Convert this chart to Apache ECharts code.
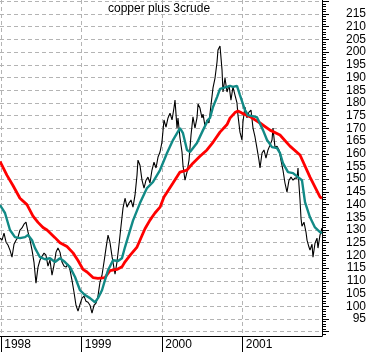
<!DOCTYPE html>
<html>
<head>
<meta charset="utf-8">
<script src="https://cdn.jsdelivr.net/npm/echarts@6/dist/echarts.min.js"></script>
<style>
html, body { margin: 0; padding: 0; background: #fff; }
#chart { width: 371px; height: 352px; }
</style>
</head>
<body>
<div id="chart"></div>
<script>
// 年份刻度
var yearTicks = [1998, 1999, 2000, 2001];
// 右轴刻度和标签
var majorTicks = [90, 95, 100, 105, 110, 115, 120, 125, 130, 135, 140, 145, 150, 155, 160, 165, 170, 175, 180, 185, 190, 195, 200, 205, 210, 215, 220];
var tickLabels = [95, 100, 105, 110, 115, 120, 125, 130, 135, 140, 145, 150, 155, 160, 165, 170, 175, 180, 185, 190, 195, 200, 205, 210, 215];
var minorTicks = [];
for (var m = 89; m <= 220; m++) { if (m % 5 != 0) minorTicks.push(m); }

// copper plus 3crude 价格
var price = [
[1997.985,126.8],[1998.010,126.0],[1998.035,128.8],[1998.060,125.2],[1998.084,124.1],[1998.109,122.1],[1998.134,119.3],[1998.159,124.4],
[1998.184,126.0],[1998.209,127.2],[1998.233,130.0],[1998.258,130.8],[1998.283,132.3],[1998.308,133.1],[1998.333,129.2],[1998.358,126.0],
[1998.383,122.1],[1998.407,117.4],[1998.432,109.1],[1998.457,115.4],[1998.482,118.2],[1998.507,119.7],[1998.532,120.9],[1998.556,120.1],
[1998.581,115.8],[1998.606,118.2],[1998.631,112.2],[1998.656,116.2],[1998.681,121.3],[1998.705,122.9],[1998.730,121.3],[1998.755,117.4],
[1998.780,115.8],[1998.805,115.4],[1998.830,116.6],[1998.855,114.2],[1998.879,110.3],[1998.904,105.6],[1998.929,100.4],[1998.954,98.1],
[1998.979,100.8],[1999.004,103.2],[1999.029,104.0],[1999.053,102.0],[1999.078,101.6],[1999.103,100.4],[1999.128,97.3],[1999.153,100.4],
[1999.178,101.2],[1999.202,104.0],[1999.227,109.5],[1999.252,112.2],[1999.277,117.4],[1999.302,122.9],[1999.327,128.0],[1999.351,125.2],
[1999.376,119.7],[1999.401,115.0],[1999.414,112.6],[1999.438,117.4],[1999.463,124.1],[1999.488,131.5],[1999.513,138.6],[1999.538,142.5],
[1999.563,139.0],[1999.587,140.6],[1999.612,141.8],[1999.637,139.0],[1999.662,143.7],[1999.687,151.6],[1999.699,157.5],[1999.724,155.5],
[1999.749,149.6],[1999.774,146.5],[1999.799,149.6],[1999.823,150.8],[1999.848,148.5],[1999.873,153.6],[1999.898,156.7],[1999.923,154.4],
[1999.948,158.7],[1999.973,160.7],[1999.997,164.6],[2000.022,173.3],[2000.047,170.5],[2000.072,174.1],[2000.097,176.0],[2000.122,173.3],
[2000.146,178.0],[2000.159,181.1],[2000.184,170.1],[2000.196,174.1],[2000.221,166.2],[2000.246,160.7],[2000.258,155.5],[2000.283,149.6],
[2000.308,152.8],[2000.333,157.5],[2000.358,167.4],[2000.382,174.5],[2000.407,170.1],[2000.432,174.1],[2000.445,179.6],[2000.469,178.0],
[2000.494,174.1],[2000.507,175.6],[2000.532,170.9],[2000.556,173.3],[2000.581,172.1],[2000.606,179.2],[2000.631,185.9],[2000.656,189.8],
[2000.681,196.1],[2000.693,200.8],[2000.718,202.4],[2000.743,193.0],[2000.755,184.3],[2000.780,189.8],[2000.805,184.3],[2000.830,187.0],
[2000.854,181.1],[2000.879,186.3],[2000.904,183.1],[2000.929,180.0],[2000.941,175.2],[2000.966,168.5],[2000.991,165.4],[2001.003,172.5],
[2001.028,178.4],[2001.053,174.1],[2001.078,176.4],[2001.103,177.2],[2001.128,170.1],[2001.153,166.6],[2001.177,162.2],[2001.202,157.5],
[2001.215,154.4],[2001.240,160.3],[2001.264,161.5],[2001.289,158.3],[2001.314,161.5],[2001.339,163.4],[2001.364,165.4],[2001.376,170.1],
[2001.401,162.6],[2001.426,163.0],[2001.451,161.5],[2001.475,157.5],[2001.500,153.6],[2001.525,148.5],[2001.550,144.9],[2001.575,149.6],
[2001.600,150.8],[2001.625,149.6],[2001.649,150.4],[2001.674,150.4],[2001.687,154.4],[2001.699,147.7],[2001.712,141.8],[2001.724,134.7],
[2001.736,131.5],[2001.761,133.1],[2001.786,129.2],[2001.799,126.0],[2001.823,123.3],[2001.836,122.1],[2001.861,124.4],[2001.873,119.3],
[2001.898,124.8],[2001.923,126.8],[2001.935,122.9],[2001.960,128.0],[2001.985,130.8]
];

// 短期均线（绿色）
var maShort = [
[1997.985,139.8],[1998.047,136.7],[1998.109,130.0],[1998.171,127.2],[1998.233,126.8],[1998.296,127.2],[1998.333,128.0],[1998.383,126.0],
[1998.420,122.9],[1998.482,119.3],[1998.544,118.5],[1998.606,118.9],[1998.668,117.4],[1998.730,118.9],[1998.792,117.4],[1998.855,115.4],
[1998.917,111.5],[1998.979,106.3],[1999.041,104.4],[1999.103,103.2],[1999.165,101.6],[1999.202,103.2],[1999.252,106.3],[1999.289,110.3],
[1999.327,114.2],[1999.389,118.1],[1999.451,117.8],[1999.500,118.9],[1999.538,123.3],[1999.575,127.2],[1999.637,133.7],[1999.724,140.6],
[1999.811,146.5],[1999.886,148.9],[1999.973,153.6],[2000.060,160.3],[2000.134,165.4],[2000.221,170.1],[2000.258,168.1],[2000.308,161.5],
[2000.345,160.7],[2000.432,164.2],[2000.507,169.3],[2000.569,173.3],[2000.594,174.1],[2000.631,178.4],[2000.681,182.3],[2000.718,185.5],
[2000.805,186.3],[2000.842,186.7],[2000.879,186.3],[2000.929,186.7],[2000.966,183.1],[2001.028,177.2],[2001.066,175.2],[2001.090,175.2],
[2001.177,174.4],[2001.252,169.3],[2001.302,165.4],[2001.364,162.6],[2001.426,162.2],[2001.463,160.3],[2001.500,156.3],[2001.563,152.8],
[2001.625,152.4],[2001.687,150.8],[2001.736,149.6],[2001.774,141.0],[2001.836,135.0],[2001.898,131.0],[2001.960,129.2],[2001.985,128.8]
];

// 长期均线（红色）
var maLong = [
[1997.985,157.0],[1998.072,151.5],[1998.146,147.5],[1998.233,142.5],[1998.320,140.0],[1998.395,135.5],[1998.457,133.0],[1998.519,131.0],
[1998.569,130.0],[1998.668,127.0],[1998.730,125.0],[1998.817,123.5],[1998.892,121.0],[1998.954,118.0],[1999.016,114.5],[1999.066,113.5],
[1999.140,111.3],[1999.202,111.0],[1999.289,111.3],[1999.351,114.0],[1999.438,114.5],[1999.500,115.5],[1999.538,117.5],[1999.600,120.0],
[1999.687,123.3],[1999.786,130.5],[1999.848,133.9],[1999.910,136.7],[1999.973,139.0],[2000.022,143.0],[2000.134,148.5],[2000.221,152.8],
[2000.308,153.6],[2000.382,156.3],[2000.469,159.0],[2000.556,161.5],[2000.631,164.5],[2000.718,168.5],[2000.805,171.5],[2000.842,174.0],
[2000.904,176.2],[2000.941,176.8],[2000.991,176.0],[2001.090,174.6],[2001.215,172.1],[2001.339,169.3],[2001.463,167.4],[2001.587,163.0],
[2001.712,159.5],[2001.836,150.8],[2001.960,143.0],[2001.985,142.5]
];
</script>
<script>
var myChart = echarts.init(document.getElementById('chart'));
var gridLine = { show: true, lineStyle: { color: '#b4b4b4', type: [4, 3], width: 1 } };
var font = 'Liberation Sans, Arial, sans-serif';

var option = {
    animation: false,
    backgroundColor: '#fff',
    title: {
        text: 'copper plus 3crude',
        left: 108,
        top: 3,
        padding: 0,
        textStyle: { fontSize: 12, fontWeight: 'normal', color: '#000', fontFamily: font }
    },
    grid: { left: 0, right: 49, top: 0, bottom: 16 },
    xAxis: {
        type: 'value',
        min: 1997.985,
        max: 2001.985,
        axisLine: { show: true, lineStyle: { color: '#000', width: 1 } },
        axisTick: { show: true, length: 16, customValues: yearTicks, lineStyle: { color: '#000' } },
        axisLabel: {
            customValues: yearTicks,
            align: 'left',
            verticalAlign: 'top',
            margin: 3,
            padding: [0, 0, 0, 3],
            color: '#000',
            fontSize: 12,
            fontFamily: font,
            formatter: function (v) { return String(Math.round(v)); }
        },
        splitLine: gridLine
    },
    yAxis: [{
        type: 'value',
        position: 'right',
        min: 88.3,
        max: 220.5,
        axisLine: { show: true, lineStyle: { color: '#000', width: 1 } },
        axisTick: { show: true, length: 7, customValues: majorTicks, lineStyle: { color: '#000' } },
        axisLabel: {
            customValues: tickLabels,
            align: 'right',
            margin: 44,
            color: '#000',
            fontSize: 12,
            fontFamily: font
        },
        splitLine: gridLine
    }, {
        type: 'value',
        position: 'right',
        min: 88.3,
        max: 220.5,
        axisLine: { show: false },
        axisTick: { show: true, length: 4, customValues: minorTicks, lineStyle: { color: '#000' } },
        axisLabel: { show: false },
        splitLine: { show: false }
    }],
    series: [{
        type: 'line',
        data: price,
        symbol: 'none',
        lineStyle: { color: '#000', width: 1.1 },
        z: 2
    }, {
        type: 'line',
        data: maLong,
        symbol: 'none',
        lineStyle: { color: '#ff0000', width: 2.8 },
        z: 3
    }, {
        type: 'line',
        data: maShort,
        symbol: 'none',
        lineStyle: { color: '#128a86', width: 2.4 },
        z: 4
    }]
};
myChart.setOption(option);
</script>
</body>
</html>
